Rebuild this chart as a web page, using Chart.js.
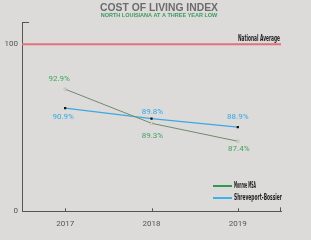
<!DOCTYPE html>
<html>
<head>
<meta charset="utf-8">
<script src="https://cdn.jsdelivr.net/npm/chart.js@4"></script>
<style>
  html, body { margin: 0; padding: 0; background: #dddbda; }
  #wrap { width: 311px; height: 240px; }
</style>
</head>
<body>
<div id="wrap"><canvas id="colChart" width="311" height="240"></canvas></div>
<script>
const years = ['2017', '2018', '2019'];
const monroe = [92.9, 89.3, 87.4];
const shreveport = [90.9, 89.8, 88.9];
const nationalAverage = 100;
const axisTicks = [0, 100];

const pct = v => v.toFixed(1) + '%';

// labels, legend, national average line and small axis ticks
const extras = {
    id: 'extras',
    beforeDatasetsDraw(chart) {
        const {ctx, chartArea, scales} = chart;
        const y = scales.y.getPixelForValue(nationalAverage);
        ctx.save();
        ctx.strokeStyle = '#e5707c';
        ctx.lineWidth = 2;
        ctx.beginPath();
        ctx.moveTo(chartArea.left, y);
        ctx.lineTo(chartArea.right, y);
        ctx.stroke();

        ctx.strokeStyle = '#555';
        ctx.lineWidth = 1;
        ctx.beginPath();
        ctx.moveTo(chartArea.left, chartArea.top + 0.5);
        ctx.lineTo(chartArea.left + 7, chartArea.top + 0.5);
        years.forEach((yr, i) => {
            const x = Math.round(scales.x.getPixelForValue(i)) + 0.5;
            ctx.moveTo(x, chartArea.bottom);
            ctx.lineTo(x, chartArea.bottom - 3);
        });
        ctx.moveTo(chartArea.right - 0.5, chartArea.bottom);
        ctx.lineTo(chartArea.right - 0.5, chartArea.bottom - 4);
        ctx.stroke();
        ctx.restore();
    },
    afterDatasetsDraw(chart) {
        const {ctx, chartArea, scales} = chart;
        ctx.save();
        // title
        ctx.textAlign = 'center';
        ctx.textBaseline = 'middle';
        ctx.fillStyle = '#6c6c6c';
        ctx.font = 'bold 11px "Liberation Sans", Arial, sans-serif';
        ctx.fillText('COST OF LIVING INDEX', 159, 8, 118);
        ctx.fillStyle = '#3b9a5c';
        ctx.font = 'bold 5.5px "Liberation Sans", Arial, sans-serif';
        ctx.fillText('NORTH LOUISIANA AT A THREE YEAR LOW', 159, 15, 117);

        // national average label
        const y = scales.y.getPixelForValue(nationalAverage);
        ctx.textAlign = 'right';
        ctx.textBaseline = 'alphabetic';
        ctx.fillStyle = '#1e1e1e';
        ctx.font = 'bold 8px "DejaVu Sans Condensed", "Liberation Sans Narrow", sans-serif';
        ctx.fillText('National Average', chartArea.right - 1, y - 3, 42);

        // point labels
        ctx.textAlign = 'center';
        ctx.textBaseline = 'middle';
        ctx.font = '8px Roboto, sans-serif';
        const offs = [[[-6, -10], [1, 13], [1, 8]], [[-2, 9], [1, -6.5], [0, -10]]];
        const cols = ['#3fa45f', '#2fa9e0'];
        chart.data.datasets.forEach((ds, di) => {
            const meta = chart.getDatasetMeta(di);
            meta.data.forEach((pt, i) => {
                ctx.fillStyle = cols[di];
                ctx.fillText(pct(ds.data[i]), pt.x + offs[di][i][0], pt.y + offs[di][i][1]);
            });
        });

        // legend
        const legend = [['Monroe MSA', '#2f9a55', 186], ['Shreveport-Bossier', '#3cb2ea', 198]];
        ctx.textAlign = 'left';
        ctx.font = 'bold 8px "DejaVu Sans Condensed", "Liberation Sans Narrow", sans-serif';
        legend.forEach(([txt, col, ly]) => {
            ctx.strokeStyle = col;
            ctx.lineWidth = 2;
            ctx.beginPath();
            ctx.moveTo(213, ly);
            ctx.lineTo(232, ly);
            ctx.stroke();
            ctx.fillStyle = '#1e1e1e';
            ctx.fillText(txt, 234, ly, txt.length > 12 ? 48 : 22);
        });
        ctx.restore();
    }
};

new Chart(document.getElementById('colChart'), {
    type: 'line',
    data: {
        labels: years,
        datasets: [{
            label: 'Monroe MSA',
            data: monroe,
            yAxisID: 'y2',
            borderColor: '#6e8a6c',
            borderWidth: 1,
            pointStyle: 'rect',
            pointRadius: 1.5,
            pointBackgroundColor: '#f4f4ee',
            pointBorderColor: '#8a9a88',
            pointBorderWidth: 0.5,
            tension: 0
        }, {
            label: 'Shreveport-Bossier',
            data: shreveport,
            yAxisID: 'y2',
            borderColor: '#3aa9e0',
            borderWidth: 1.2,
            pointStyle: 'rect',
            pointRadius: 1.6,
            pointBackgroundColor: '#111',
            pointBorderColor: '#111',
            pointBorderWidth: 0,
            tension: 0
        }]
    },
    options: {
        responsive: false,
        animation: false,
        layout: {padding: {left: 0, top: 22, right: 30, bottom: 0}},
        plugins: {legend: {display: false}, tooltip: {enabled: false}},
        scales: {
            x: {
                offset: true,
                grid: {display: false, drawTicks: false},
                border: {display: true, color: '#555', width: 1},
                ticks: {color: '#555', padding: 8, font: {size: 8, family: 'Roboto'}},
                afterFit: s => { s.height = 28.7; }
            },
            y: {
                min: 0,
                max: 113.3,
                grid: {display: false, drawTicks: false},
                border: {display: true, color: '#555', width: 1},
                afterBuildTicks: s => { s.ticks = axisTicks.map(v => ({value: v})); },
                ticks: {color: '#555', padding: 4, font: {size: 8, family: 'Roboto'}},
                afterFit: s => { s.width = 22; }
            },
            y2: {
                display: false,
                min: 80,
                max: 100
            }
        }
    },
    plugins: [extras]
});
</script>
</body>
</html>
